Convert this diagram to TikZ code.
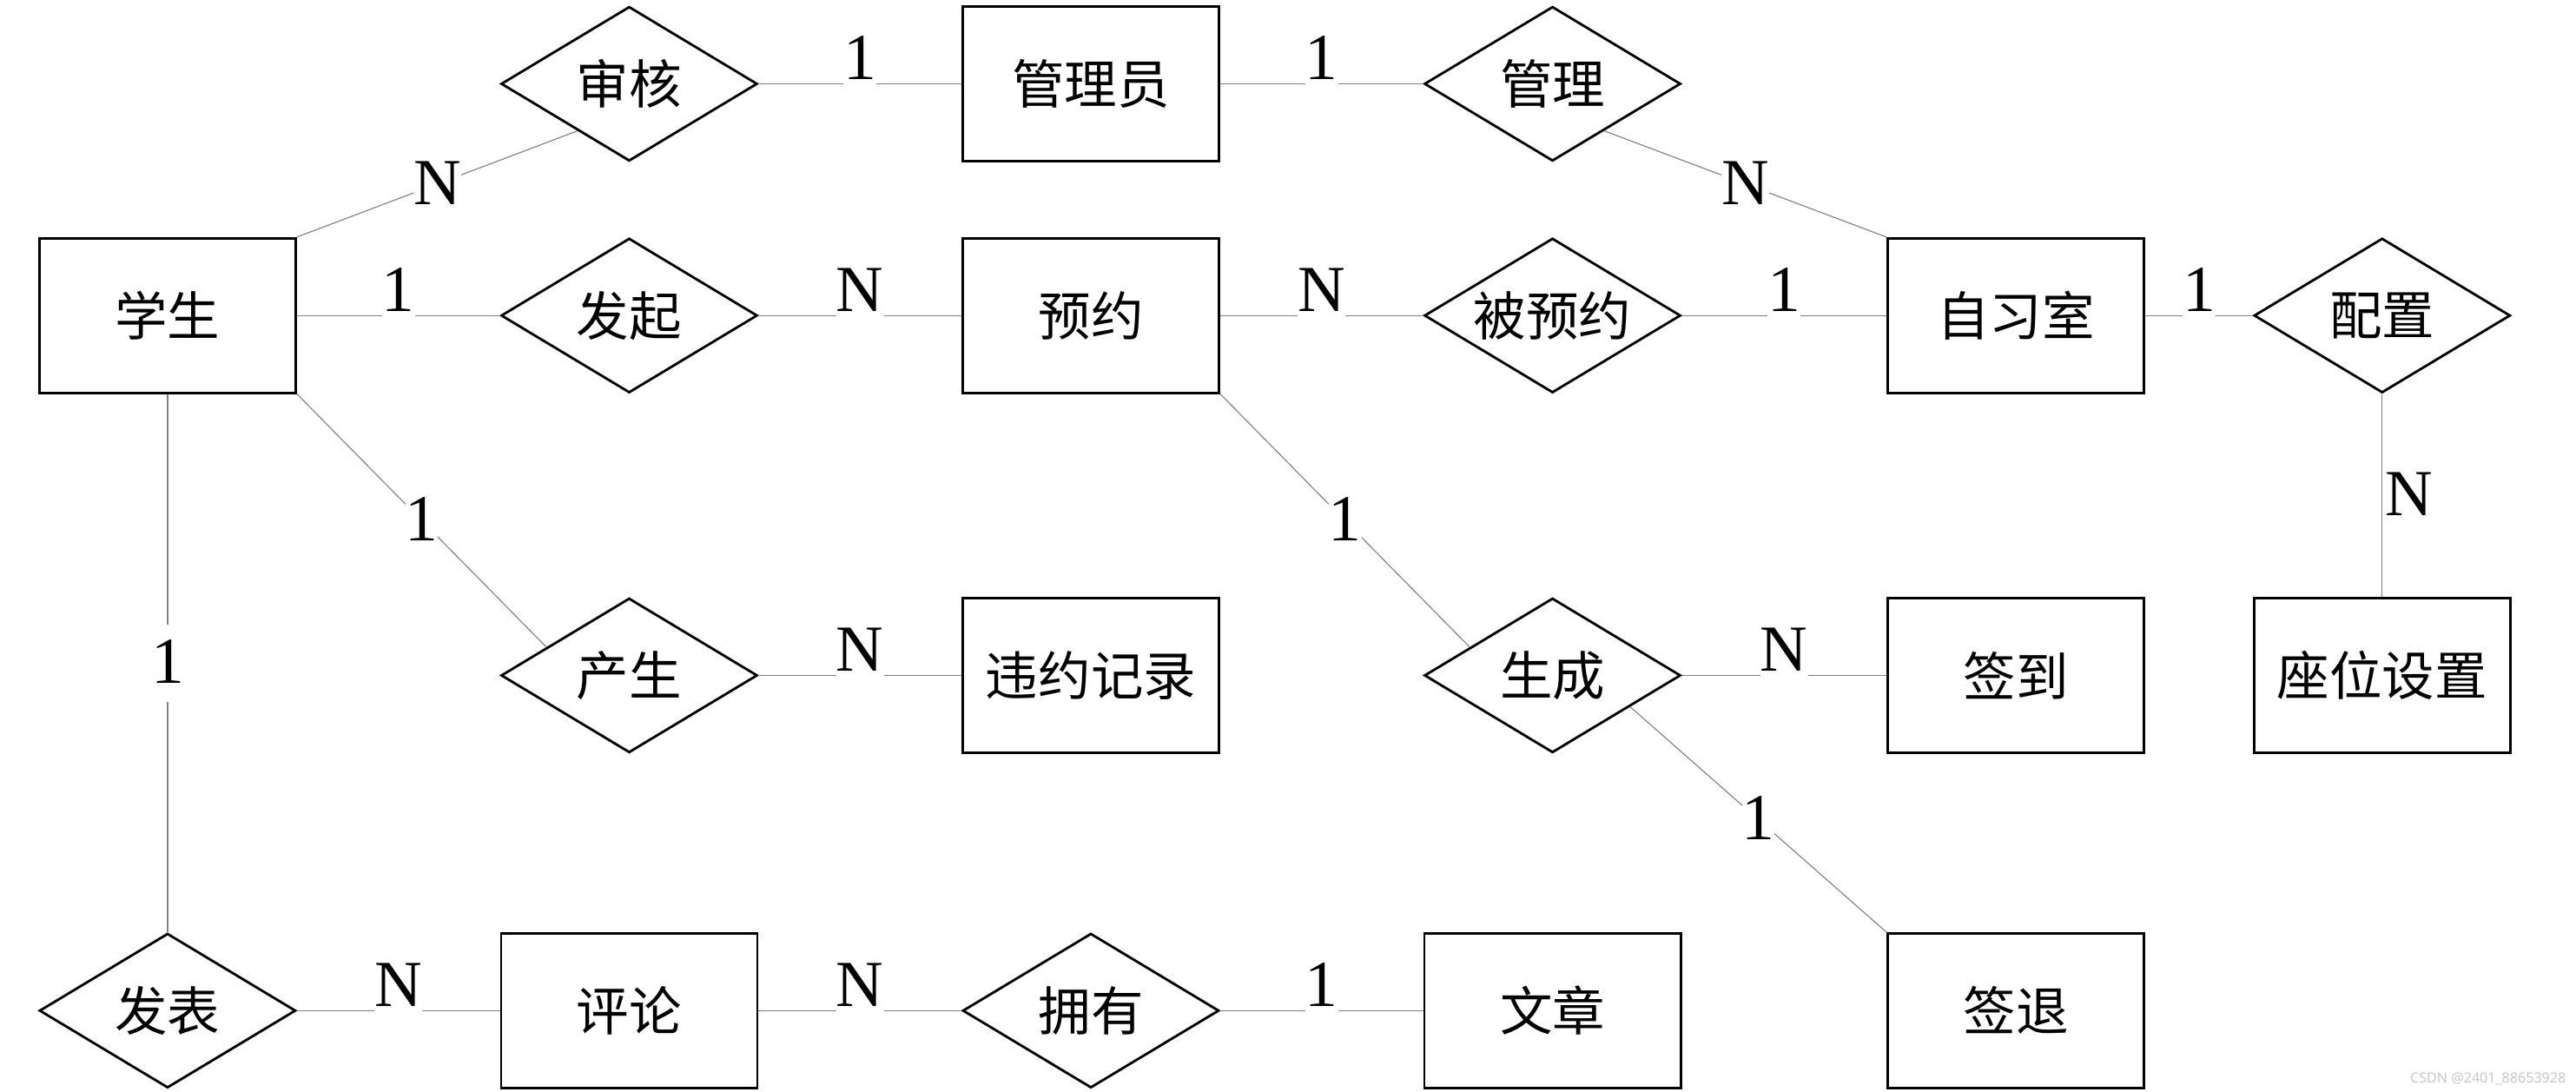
\documentclass[tikz,border=0pt]{standalone}
\usepackage{fontspec}
\setmainfont{Liberation Serif}
\newfontfamily\cjk{Noto Sans CJK SC}
\newfontfamily\wmfont{Noto Sans}
\usetikzlibrary{shapes.geometric,calc}
\tikzset{
  ent/.style={draw=black, line width=1.5pt, rectangle, minimum width=156pt, minimum height=94pt, inner sep=0pt, font=\cjk\fontsize{32}{38}\selectfont},
  rel/.style={draw=black, line width=1.5pt, diamond, aspect=1.66, minimum width=156pt, minimum height=94pt, inner sep=0pt, font=\cjk\fontsize{32}{38}\selectfont},
  conn/.style={draw=black!50, line width=0.6pt},
  card/.style={fill=white, inner sep=0pt, text height=36pt, text depth=11pt, font=\fontsize{40}{48}\selectfont},
  hcard/.style={card, anchor=base, yshift=2.5pt},
  wm/.style={inner sep=0pt, text=black!22, font=\wmfont\fontsize{8.5}{10}\selectfont},
}
\begin{document}
\begin{tikzpicture}[x=1pt,y=-1pt]
\useasboundingbox (0,0) rectangle (1568,664.5);
% entities
\node[ent] (stu) at (102,192) {学生};
\node[ent] (gly) at (664,51) {管理员};
\node[ent] (yy) at (664,192) {预约};
\node[ent] (zxs) at (1227,192) {自习室};
\node[ent] (wy) at (664,411) {违约记录};
\node[ent] (qd) at (1227,411) {签到};
\node[ent] (zw) at (1450,411) {座位设置};
\node[ent] (pl) at (383,615) {评论};
\node[ent] (wz) at (945,615) {文章};
\node[ent] (qt) at (1227,615) {签退};
% relationships
\node[rel] (sh) at (383,51) {审核};
\node[rel] (gl) at (945,51) {管理};
\node[rel] (fq) at (383,192) {发起};
\node[rel] (byy) at (945,192) {被预约};
\node[rel] (pz) at (1450,192) {配置};
\node[rel] (cs) at (383,411) {产生};
\node[rel] (sc) at (945,411) {生成};
\node[rel] (fb) at (102,615) {发表};
\node[rel] (yo) at (664,615) {拥有};
% attachment points on diamond edges
\coordinate (shp) at ($(sh.west)!0.6!(sh.south)$);
\coordinate (glp) at ($(gl.east)!0.6!(gl.south)$);
\coordinate (csp) at ($(cs.west)!0.36!(cs.north)$);
\coordinate (scp) at ($(sc.west)!0.36!(sc.north)$);
\coordinate (scq) at ($(sc.east)!0.4!(sc.south)$);
% connectors
\draw[conn] (stu.north east) -- (shp) node[card, midway] (c1) {N};
\draw[conn] (sh.east) -- (gly.west) node[hcard, midway] (c2) {1};
\draw[conn] (gly.east) -- (gl.west) node[hcard, midway] (c3) {1};
\draw[conn] (glp) -- (zxs.north west) node[card, midway] (c4) {N};
\draw[conn] (stu.east) -- (fq.west) node[hcard, midway] (c5) {1};
\draw[conn] (fq.east) -- (yy.west) node[hcard, midway] (c6) {N};
\draw[conn] (yy.east) -- (byy.west) node[hcard, midway] (c7) {N};
\draw[conn] (byy.east) -- (zxs.west) node[hcard, midway] (c8) {1};
\draw[conn] (zxs.east) -- (pz.west) node[hcard, midway] (c9) {1};
\draw[conn] (pz.south) -- (zw.north) node[card, midway, anchor=west, xshift=1.5pt, fill=none] (c10) {N};
\draw[conn] (stu.south east) -- (csp) node[card, midway] (c11) {1};
\draw[conn] (cs.east) -- (wy.west) node[hcard, midway] (c12) {N};
\draw[conn] (yy.south east) -- (scp) node[card, midway] (c13) {1};
\draw[conn] (sc.east) -- (qd.west) node[hcard, midway] (c14) {N};
\draw[conn] (scq) -- (qt.north west) node[card, midway] (c15) {1};
\draw[conn] (stu.south) -- (fb.north) node[card, midway] (c16) {1};
\draw[conn] (fb.east) -- (pl.west) node[hcard, midway] (c17) {N};
\draw[conn] (pl.east) -- (yo.west) node[hcard, midway] (c18) {N};
\draw[conn] (yo.east) -- (wz.west) node[hcard, midway] (c19) {1};
% watermark
\node[wm, anchor=base east] (wmk) at (1562,659) {CSDN @2401\_88653928};
\end{tikzpicture}
\end{document}
